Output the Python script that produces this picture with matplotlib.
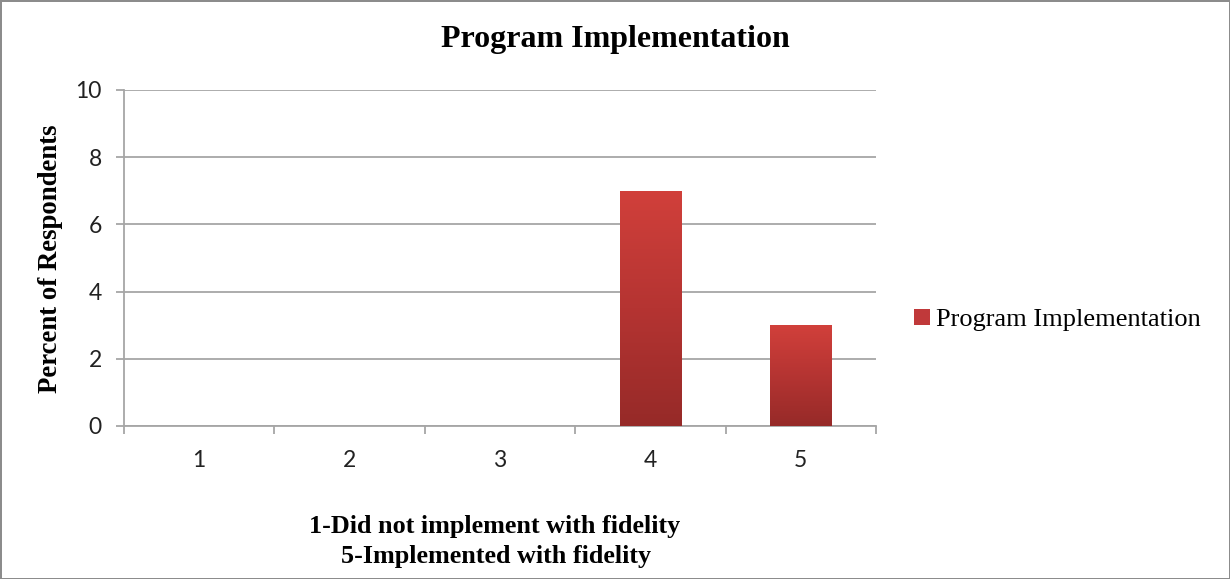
import numpy as np
import matplotlib
matplotlib.use('Agg')
import matplotlib.pyplot as plt
from matplotlib.colors import LinearSegmentedColormap

# datos
categories = ['1', '2', '3', '4', '5']
values = [0, 0, 0, 7, 3]
series_name = 'Program Implementation'
yticks = [0, 2, 4, 6, 8, 10]

grid_color = '#a6a6a6'
serif = 'Liberation Serif'
sans = 'Lato'

fig = plt.figure(figsize=(12.3, 5.79), dpi=100)
fig.patch.set_edgecolor('#8c8c8c')
fig.patch.set_linewidth(2)
ax = fig.add_axes([124/1230, 1 - 426/579, 752/1230, 336/579])

x = np.arange(len(categories))
bars = ax.bar(x, values, width=0.41, color='#c0393a', zorder=3)

# degradado vertical en cada barra
cmap = LinearSegmentedColormap.from_list('rojo', ['#962a28', '#b53432', '#d1403b'])
grad = np.linspace(0, 1, 256).reshape(-1, 1)
for b in bars:
    if b.get_height() <= 0:
        continue
    im = ax.imshow(grad, cmap=cmap, origin='lower', aspect='auto',
                   extent=[b.get_x(), b.get_x() + b.get_width(), 0, b.get_height()],
                   zorder=4)
    im.set_clip_path(b)

ax.set_xlim(-0.5, len(categories) - 0.5)
ax.set_ylim(0, 10)
ax.set_yticks(yticks)
ax.yaxis.grid(True, color=grid_color, linewidth=1.3, zorder=0)
ax.set_axisbelow(True)

ax.set_xticks(x)
ax.set_xticklabels(categories, fontsize=16.5, family=sans, color='#222222')
ax.set_xticks(np.arange(len(categories) + 1) - 0.5, minor=True)
ax.tick_params(axis='x', which='major', length=0, pad=17)
ax.tick_params(axis='x', which='minor', length=6, color=grid_color, width=1.3)
ax.tick_params(axis='y', length=6, color=grid_color, width=1.3, labelsize=16.5,
               labelcolor='#222222', pad=10)
for lab in ax.get_yticklabels():
    lab.set_family(sans)

for s in ['top', 'right']:
    ax.spines[s].set_visible(False)
for s in ['left', 'bottom']:
    ax.spines[s].set_color(grid_color)
    ax.spines[s].set_linewidth(1.3)

fig.text(0.5, 1 - 40/579, 'Program Implementation', ha='center', va='center',
         fontsize=23, fontweight='bold', family=serif)
fig.text(51/1230, 1 - 259/579, 'Percent of Respondents', rotation=90, ha='center',
         va='center', fontsize=19.3, fontweight='bold', family=serif)
fig.text(495/1230, 1 - 527/579, '1-Did not implement with fidelity', ha='center',
         va='center', fontsize=18.8, fontweight='bold', family=serif)
fig.text(496/1230, 1 - 557/579, '5-Implemented with fidelity', ha='center',
         va='center', fontsize=18.8, fontweight='bold', family=serif)

leg = fig.legend([bars[3]], [series_name], loc='center left',
                 bbox_to_anchor=(890/1230, 1 - 320/579), frameon=False,
                 handlelength=0.6, handleheight=0.6, handletextpad=0.25,
                 prop={'family': serif, 'size': 19})

fig.savefig('out.png', dpi=100)
